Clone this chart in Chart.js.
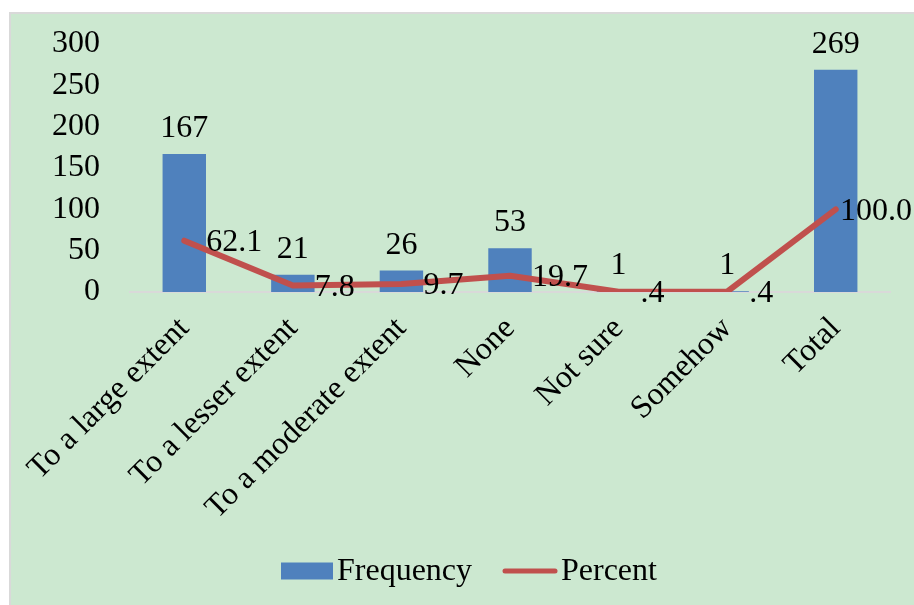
<!DOCTYPE html>
<html>
<head>
<meta charset="utf-8">
<script src="https://cdn.jsdelivr.net/npm/chart.js@4/dist/chart.umd.min.js"></script>
<style>
  html, body { margin: 0; padding: 0; background: #ffffff; }
  #panel {
    position: absolute; left: 9px; top: 12px; right: 0; bottom: 0;
    background: #cce8d0;
    border-left: 2px solid #d9d9d9; border-top: 2px solid #d9d9d9;
  }
  #wrap { position: absolute; left: 0; top: 0; width: 914px; height: 605px; }
</style>
</head>
<body>
<div id="panel"></div>
<div id="wrap"><canvas id="chart" width="914" height="605"></canvas></div>
<script>
const categories = ['To a large extent', 'To a lesser extent', 'To a moderate extent', 'None', 'Not sure', 'Somehow', 'Total'];
const frequency = [167, 21, 26, 53, 1, 1, 269];
const percent = [62.1, 7.8, 9.7, 19.7, 0.4, 0.4, 100.0];
const yTicks = [0, 50, 100, 150, 200, 250, 300];

const FONT = 'Liberation Serif, Times New Roman, serif';
const FSIZE = 32;
const BLUE = '#4f81bd';
const RED = '#c0504d';

// one-decimal percent with the leading zero dropped (".4")
function fmtPercent(v) {
  return v.toFixed(1).replace(/^0\./, '.');
}

const valueLabels = {
  id: 'valueLabels',
  afterDatasetsDraw(chart) {
    const ctx = chart.ctx;
    ctx.save();
    ctx.font = FSIZE + 'px ' + FONT;
    ctx.fillStyle = '#000';
    // bar values above each bar
    const barMeta = chart.getDatasetMeta(0);
    barMeta.data.forEach((bar, i) => {
      ctx.textAlign = 'center';
      ctx.textBaseline = 'alphabetic';
      ctx.fillText(String(frequency[i]), bar.x, bar.y - 17);
    });
    // line values to the right of each point
    const lineMeta = chart.getDatasetMeta(1);
    lineMeta.data.forEach((pt, i) => {
      const txt = fmtPercent(percent[i]);
      const w = ctx.measureText(txt).width;
      let x = pt.x + 22;
      if (x + w > chart.width - 2) x = chart.width - 2 - w;
      ctx.textAlign = 'left';
      ctx.textBaseline = 'middle';
      ctx.fillText(txt, x, pt.y + 2);
    });
    ctx.restore();
  }
};

// legend row under the axis: blue swatch + "Frequency", red stroke + "Percent"
const bottomLegend = {
  id: 'bottomLegend',
  afterDraw(chart) {
    const ctx = chart.ctx;
    const ds = chart.data.datasets;
    const cy = 571;
    ctx.save();
    ctx.font = FSIZE + 'px ' + FONT;
    ctx.textBaseline = 'middle';
    ctx.textAlign = 'left';
    ctx.fillStyle = ds[0].backgroundColor;
    ctx.fillRect(281, cy - 8.5, 52, 17);
    ctx.fillStyle = '#000';
    ctx.fillText(ds[0].label, 337, cy + 1);
    ctx.strokeStyle = ds[1].borderColor;
    ctx.lineWidth = 5;
    ctx.lineCap = 'round';
    ctx.beginPath();
    ctx.moveTo(505, cy);
    ctx.lineTo(555, cy);
    ctx.stroke();
    ctx.fillText(ds[1].label, 561, cy + 1);
    ctx.restore();
  }
};

new Chart(document.getElementById('chart'), {
  data: {
    labels: categories,
    datasets: [
      {
        type: 'bar',
        label: 'Frequency',
        data: frequency,
        backgroundColor: BLUE,
        borderWidth: 0,
        categoryPercentage: 1.0,
        barPercentage: 0.4,
        order: 2
      },
      {
        type: 'line',
        label: 'Percent',
        data: percent,
        borderColor: RED,
        backgroundColor: RED,
        borderWidth: 6,
        pointRadius: 0,
        borderCapStyle: 'round',
        borderJoinStyle: 'round',
        tension: 0,
        order: 1
      }
    ]
  },
  options: {
    responsive: false,
    animation: false,
    layout: { padding: { left: 0, right: 24, top: 44, bottom: 60 } },
    plugins: {
      tooltip: { enabled: false },
      legend: { display: false }
    },
    scales: {
      x: {
        grid: { display: false, drawTicks: false },
        border: { display: true, color: '#d9d9d9', width: 2 },
        ticks: {
          color: '#000',
          font: { family: FONT, size: FSIZE },
          minRotation: 45,
          maxRotation: 45,
          autoSkip: false,
          padding: 18
        },
        afterFit(scale) { scale.height = 253; }
      },
      y: {
        min: 0,
        max: 300,
        grid: { display: false, drawTicks: false },
        border: { display: false },
        afterBuildTicks(scale) { scale.ticks = yTicks.map(v => ({ value: v })); },
        ticks: {
          color: '#000',
          font: { family: FONT, size: FSIZE },
          autoSkip: false,
          padding: 30
        },
        afterFit(scale) {
          scale.width = 130;
          scale.paddingTop = 0;
          scale.paddingBottom = 0;
        }
      }
    }
  },
  plugins: [valueLabels, bottomLegend]
});
</script>
</body>
</html>
